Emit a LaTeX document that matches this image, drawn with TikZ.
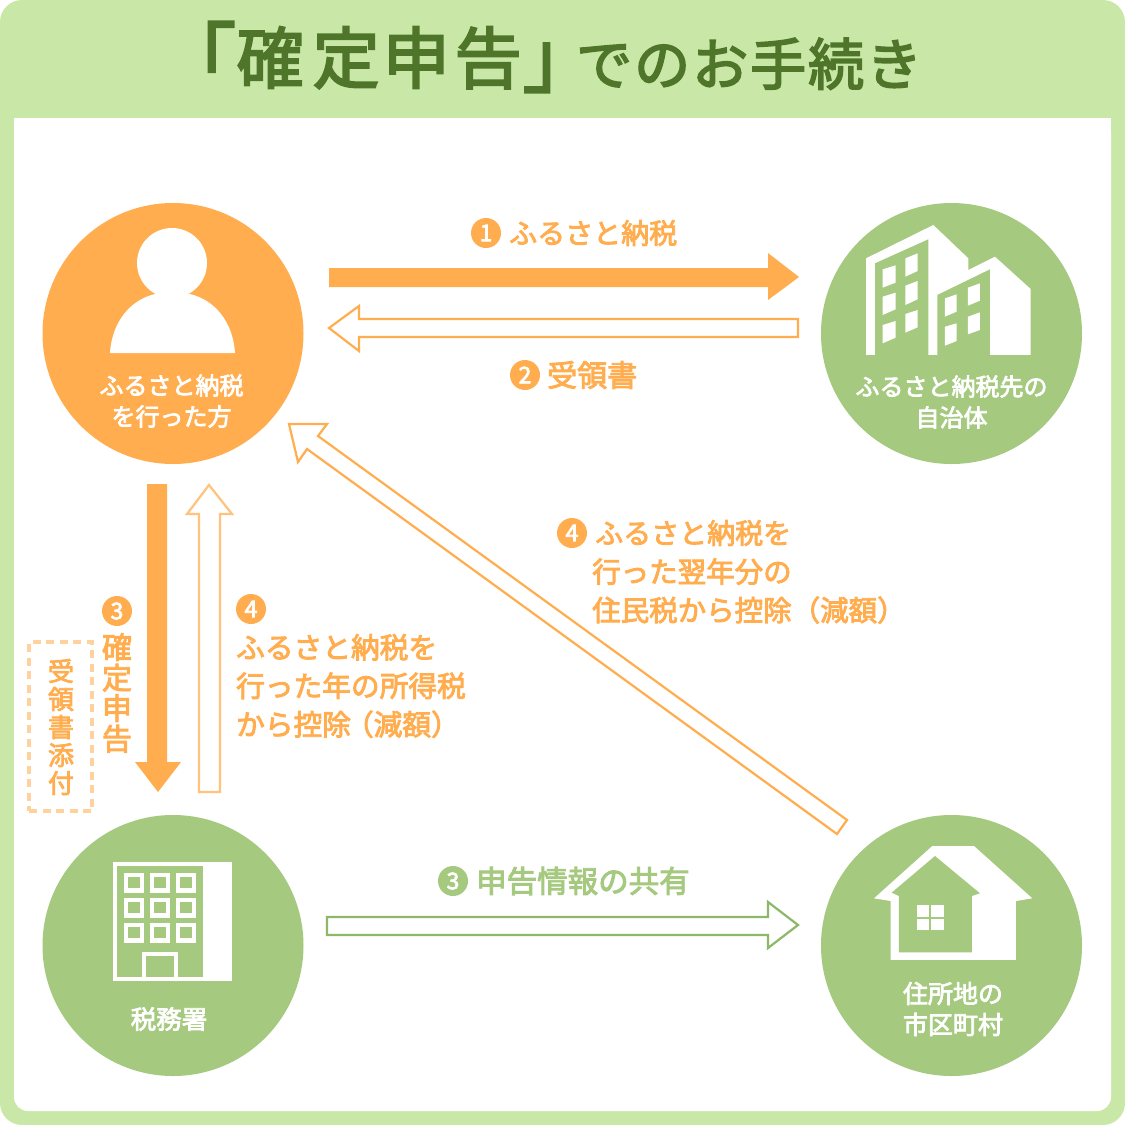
\documentclass[tikz,border=0pt]{standalone}
\usepackage{fontspec}
\setmainfont{Noto Sans CJK JP}
\newfontface\medjp{Noto Sans CJK JP}[FakeBold=3]
\newfontface\titlejp{Noto Sans CJK JP}[FakeBold=3]
\definecolor{panel}{HTML}{C9E8A8}
\definecolor{orangeA}{HTML}{FFAD4E}
\definecolor{orangeL}{HTML}{FFD19C}
\definecolor{greenA}{HTML}{A5C97E}
\definecolor{greenD}{HTML}{4E7529}
\definecolor{greenS}{HTML}{8DB868}
\newcommand{\fs}[1]{\fontsize{#1}{#1}\selectfont}
\newcommand{\cellc}[2]{\makebox[#1pt][c]{#2}}
\tikzset{
 x=1pt,y=-1pt,
 disc/.style={circle,minimum size=261pt,inner sep=0pt,draw=none},
 orangedisc/.style={disc,fill=orangeA},
 greendisc/.style={disc,fill=greenA},
 whitelabel/.style={text=white,font=\fontsize{24}{31}\selectfont\medjp,align=center,inner sep=0pt},
 olabel/.style={text=orangeA,font=\fontsize{28}{38.5}\selectfont\medjp,align=left,anchor=west,inner sep=0pt},
 glabel/.style={text=greenA,font=\fontsize{30.5}{38}\selectfont\medjp,anchor=west,inner sep=0pt},
 vlabel/.style={font=\fontsize{30}{30.5}\selectfont\medjp,inner sep=0pt,align=center},
 numo/.style={circle,fill=orangeA,text=white,minimum size=30pt,inner sep=0pt,font=\fontsize{23}{23}\selectfont\medjp},
 numg/.style={circle,fill=greenA,text=white,minimum size=30pt,inner sep=0pt,font=\fontsize{23}{23}\selectfont\medjp},
 titletext/.style={text=greenD,font=\fontsize{67}{67}\selectfont\titlejp,inner sep=0pt,anchor=base west},
 outlinearrow/.style={draw=orangeA,line width=2.2pt,fill=white,line join=miter},
 dashbox/.style={draw=orangeL,line width=4pt,dash pattern=on 8pt off 5.5pt,fill=white,minimum width=63pt,minimum height=169pt,inner sep=0pt},
}
\begin{document}
\begin{tikzpicture}
\useasboundingbox (0,0) rectangle (1125,1125);
% panel
\fill[panel,rounded corners=22pt] (0,0) rectangle (1125,1125);
\fill[white,rounded corners=14pt] (14,118) rectangle (1111,1111);
\fill[white] (14,118) rectangle (1111,150);
% title
\node[titletext] (title) at (158,83) {\raisebox{-4.5pt}{\cellc{78}{\fs{78}「}}\cellc{68}{確}\cellc{84}{定}\cellc{56}{申}\cellc{88}{告}\kern-10.5pt\raisebox{-3pt}{\cellc{78}{\fs{76}」}}\kern-24.5pt\raisebox{-2pt}{\fs{56}\cellc{58}{で}\cellc{58}{の}\cellc{58}{お}\cellc{58}{手}\cellc{58}{続}\cellc{58}{き}}};
% discs
\node[orangedisc] (user) at (173,333.5) {};
\node[greendisc] (city) at (951.5,333.5) {};
\node[greendisc] (tax) at (173,945.5) {};
\node[greendisc] (home) at (951.5,945.5) {};
% person
\fill[white] (172,263) circle[radius=35];
\fill[white] (110,353) .. controls (112,322) and (130,300) .. (155,294) -- (190,294) .. controls (215,300) and (233,322) .. (235,353) -- cycle;
% buildings
\begin{scope}[shift={(800,190)},x=0.3333pt,y=-0.3333pt]
\fill[white] (198,205) -- (400,105) -- (505,205) -- (505,240) -- (585,200) -- (692,297) -- (692,495) -- (198,495) -- cycle;
\fill[greenA] (225,220) -- (385,148) -- (385,495) -- (225,495) -- cycle;
\fill[greenA] (412,315) -- (570,238) -- (570,495) -- (412,495) -- cycle;
\foreach \xa/\xb/\a/\b/\c/\d in {248/287/238/293/226/278,248/287/320/375/308/358,248/287/405/460/393/443,316/353/205/260/190/243,316/353/287/345/273/328,316/353/372/428/360/412,435/470/325/380/313/365,435/470/410/467/400/453,504/540/293/347/280/332,504/540/380/433/367/420}
 \fill[white] (\xa,\a) -- (\xb,\c) -- (\xb,\d) -- (\xa,\b) -- cycle;
\end{scope}
% tax office
\begin{scope}[shift={(0,800)},x=0.3333pt,y=-0.3333pt]
\fill[white] (340,185) rectangle (695,542);
\fill[greenA] (352,198) rectangle (608,530);
\foreach \px in {372,450,528} \foreach \py in {218,293,368} {
 \fill[white] (\px,\py) rectangle ++(60,60);
 \fill[greenA] (\px+13,\py+13) rectangle ++(34,34);
}
\fill[white] (426,455) rectangle (535,530);
\fill[greenA] (438,468) rectangle (522,530);
\end{scope}
% house
\begin{scope}[shift={(800,800)},x=0.3333pt,y=-0.3333pt]
\fill[white] (222,295) -- (397,138) -- (522,138) -- (697,295) -- (648,303) -- (648,480) -- (272,480) -- (272,303) -- cycle;
\fill[greenA] (297,457) -- (516,457) -- (516,288) -- (540,280) -- (405,168) -- (275,278) -- (297,288) -- cycle;
\fill[white] (350,315) rectangle (432,390);
\fill[greenA] (388,315) rectangle (394,390);
\fill[greenA] (350,350) rectangle (432,356);
\end{scope}
% disc labels
\node[whitelabel] (lu) at (171.5,401) {ふるさと納税\\を行った方};
\node[whitelabel] (lc) at (951.5,402) {ふるさと納税先の\\自治体};
\node[whitelabel,font=\fontsize{25.5}{31}\selectfont\medjp] (lt) at (169,1019) {税務署};
\node[whitelabel,font=\fontsize{25}{31}\selectfont\medjp] (lh) at (953,1009) {住所地の\\市区町村};
% arrow 1
\fill[orangeA] (329,268) -- (768,268) -- (768,253) -- (799,277) -- (768,300) -- (768,287) -- (329,287) -- cycle;
% arrow 2
\draw[outlinearrow] (798,319) -- (359,319) -- (359,306) -- (329,328) -- (359,351) -- (359,337) -- (798,337) -- cycle;
% arrow 3 down
\fill[orangeA] (147,484) -- (167,484) -- (167,762) -- (181,762) -- (158,792) -- (135,762) -- (147,762) -- cycle;
% arrow 4 up
\draw[outlinearrow,draw=orangeL!60!orangeA] (199,792) -- (199,514) -- (187,514) -- (209,485) -- (232,514) -- (220,514) -- (220,792) -- cycle;
% arrow 4 diagonal
\draw[outlinearrow] (847,820) -- (318,436) -- (327,424) -- (289,424) -- (298,462) -- (307,449) -- (837,834) -- cycle;
% arrow green
\draw[outlinearrow,draw=greenS] (327,917) -- (768,917) -- (768,902) -- (798,925) -- (768,948) -- (768,935) -- (327,935) -- cycle;
% labels
\node[numo] (n1) at (486,233) {1};
\node[olabel] (l1) at (509,233) {ふるさと納税};
\node[numo] (n2) at (525,375) {2};
\node[olabel,font=\fontsize{30}{38}\selectfont\medjp] (l2) at (547,375) {受領書};
\node[numo] (n3) at (117,611) {3};
\node[vlabel,text=orangeA] (v3) at (117,693) {確\\定\\申\\告};
\node[numo] (n4) at (251,609) {4};
\node[olabel,font=\fontsize{28.7}{38.5}\selectfont\medjp] (l4) at (236,686) {ふるさと納税を\\行った年の所得税\\から控除\kern-6pt（減額）};
\node[numo] (n5) at (572,533) {4};
\node[olabel] (l5a) at (595,533) {ふるさと納税を};
\node[olabel,font=\fontsize{28.5}{38.5}\selectfont\medjp] (l5) at (592,591) {行った翌年分の\\住民税から控除（減額）};
\node[numg] (n6) at (453,881) {3};
\node[glabel] (l6) at (476,881) {申告情報の共有};
\node[dashbox] (box) at (60.5,726.5) {};
\node[vlabel,text=orangeA,font=\fontsize{26}{28}\selectfont\medjp] (bx) at (61,727) {受\\領\\書\\添\\付};
\end{tikzpicture}
\end{document}
